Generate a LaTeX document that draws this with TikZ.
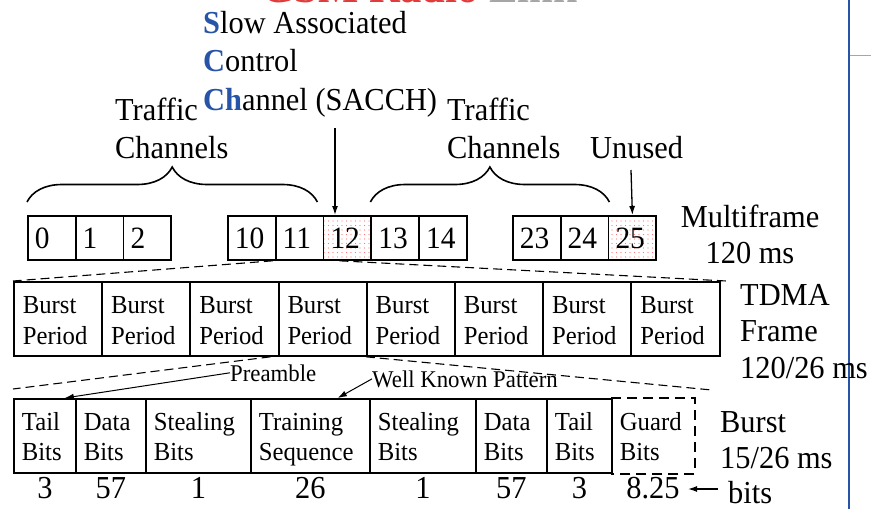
\documentclass[tikz,border=0pt]{standalone}
\usepackage{fontspec}
\setmainfont{Liberation Serif}[FakeStretch=0.95]
\usepackage{tikz}
\usetikzlibrary{arrows.meta}
\usetikzlibrary{decorations.pathreplacing}
\usetikzlibrary{patterns.meta}

\definecolor{sablue}{RGB}{40,84,168}
\definecolor{titlered}{RGB}{225,60,60}
\newcommand{\bl}[1]{\textcolor{sablue}{\bfseries #1}}
\newcommand{\tallline}{\rule{0pt}{26pt}}
\newcommand{\deepline}{\rule[-6pt]{0pt}{6pt}}

\begin{document}
\begin{tikzpicture}[x=1pt, y=-1pt,
    cellbox/.style={draw, line width=1.8pt, anchor=north west, align=left},
    slot/.style={cellbox, inner xsep=7pt, text width=33.8pt, minimum height=44pt, font=\fontsize{31}{31}\selectfont},
    period/.style={cellbox, inner xsep=9pt, text width=70.4pt, minimum height=74pt, font=\fontsize{26}{31}\selectfont},
    field/.style={cellbox, inner xsep=8pt, minimum height=74pt, font=\fontsize{26}{30}\selectfont},
    sacch/.style={pattern={Dots[distance=4.5pt, radius=0.6pt]}, pattern color=red!55},
    lbl/.style={inner sep=0pt, font=\fontsize{32}{38}\selectfont},
    note/.style={inner sep=0pt, font=\fontsize{24}{24}\selectfont},
    bitcount/.style={inner sep=0pt, anchor=base, font=\fontsize{32}{32}\selectfont},
    dashline/.style={line width=1.1pt, dash pattern=on 9pt off 5pt},
    curly/.style={decorate, decoration={brace, amplitude=35pt}, line width=1.6pt},
    pointer/.style={line width=1.3pt, -{Latex[length=9pt, width=6pt]}}]
    \useasboundingbox (0,0) rectangle (871,509);

    % slide leftovers
    \begin{scope}
        \clip (0,0) rectangle (871,509);
        \node[anchor=base west, inner sep=0pt, font=\fontsize{45}{45}\selectfont\bfseries] (title) at (261,2.5)
            {\textcolor{titlered}{GSM Radio} \textcolor{gray!70}{Link}};
    \end{scope}
    \draw[sablue, line width=2pt] (848.5,0) -- (848.5,509);
    \draw[gray!70, line width=1pt] (849.5,55) -- (871,55);

    % multiframe
    \foreach \n/\x in {0/27, 1/74.8, 2/122.6, 10/227, 11/274.8, 13/370.4, 14/418.2, 23/512, 24/559.8}
        \node[slot] (mf\n) at (\x,215) {\n};
    \foreach \n/\x in {12/322.6, 25/607.6}
        \node[slot, sacch] (mf\n) at (\x,215) {\n};

    \node[lbl, anchor=north west, align=left] (sacchlbl) at (203,11)
        {\bl{S}low Associated\\[0.5pt]\bl{C}ontrol\\[0.5pt]\bl{Ch}annel (SACCH)};
    \node[lbl, anchor=north west, align=left] (trafleft) at (115,98) {Traffic\\Channels};
    \node[lbl, anchor=north west, align=left] (trafright) at (447,98) {Traffic\\Channels};
    \node[lbl, anchor=base west] (unused) at (590,158) {Unused};
    \node[lbl, anchor=north, align=center, font=\fontsize{32}{36}\selectfont] (mflbl) at (750,205) {Multiframe\\120 ms};

    \draw[curly] ([yshift=13pt]mf0.north west) -- ([xshift=-7pt,yshift=13pt]mf11.north east);
    \draw[curly] ([yshift=13pt]mf13.north west) -- ([yshift=13pt]mf24.north east);
    \coordinate (sacchtail) at (335,128);
    \coordinate (unusedtail) at (631,170);
    \draw[pointer] (sacchtail) -- (sacchtail |- mf12.north);
    \draw[pointer] (unusedtail) -- (mf25.north);

    % TDMA frame
    \foreach \i in {1,...,8}
        \node[period] (tp\i) at ({13+(\i-1)*88.2},281) {\tallline Burst\\Period\deepline};
    \node[lbl, anchor=north west, align=left, font=\fontsize{32}{36.5}\selectfont] (tdmalbl) at (740,284) {TDMA\\Frame\\120/26 ms};
    \draw[dashline] ([xshift=-2pt]mf11.south west) -- (tp1.north west);
    \draw[dashline] ([xshift=-8pt]mf12.south) -- ([xshift=6pt]tp8.north east);

    % burst
    \foreach \n/\l/\r/\txt in {1/13/75/Tail\\Bits, 2/75/145/Data\\Bits, 3/145/250/Stealing\\Bits,
            4/250/369/Training\\Sequence, 5/369/475/Stealing\\Bits, 6/475/546/Data\\Bits, 7/546/611/Tail\\Bits}{
        \pgfmathsetmacro\fw{\r-\l-16}
        \node[field, text width=\fw pt] (b\n) at (\l,398) {\tallline\txt\deepline};
    }
    \node[field, draw=none, text width=66pt] (guard) at (611,398) {\tallline Guard\\Bits\deepline};
    \draw[line width=1.8pt, dash pattern=on 10pt off 6pt] (guard.north west) -- (guard.north east)
        -- (guard.south east) -- (guard.south west);
    \node[lbl, anchor=north west, align=left, font=\fontsize{32}{36}\selectfont] (burstlbl) at (720,411) {Burst\\15/26 ms};

    \foreach \n/\v in {1/3, 2/57, 3/1, 4/26, 5/1, 6/57, 7/3}
        \node[bitcount] (n\n) at ([yshift=-25pt]b\n.south) {\v};
    \node[bitcount] (n8) at ([yshift=-25pt]guard.south) {8.25};
    \node[lbl, anchor=base west] (bits) at (728,503) {bits};
    \coordinate (bitstail) at (718,489);
    \coordinate (bitstip) at (688,489);
    \draw[pointer] (bitstail) -- (bitstip);

    \draw[dashline] ([xshift=-7pt]tp4.south west) -- ([yshift=9pt]b1.north west);
    \draw[dashline] (tp5.south west) -- ([xshift=17pt,yshift=8pt]guard.north east);
    \node[note, anchor=base west] (pre) at (230,381) {Preamble};
    \node[note, anchor=base west] (wkp) at (372,387) {Well Known Pattern};
    \draw[pointer, line width=1pt] (pre.west) -- ([xshift=-12pt]b1.north east);
    \draw[pointer, line width=1pt] (wkp.west) -- ([xshift=-33pt]b4.north east);
\end{tikzpicture}
\end{document}
